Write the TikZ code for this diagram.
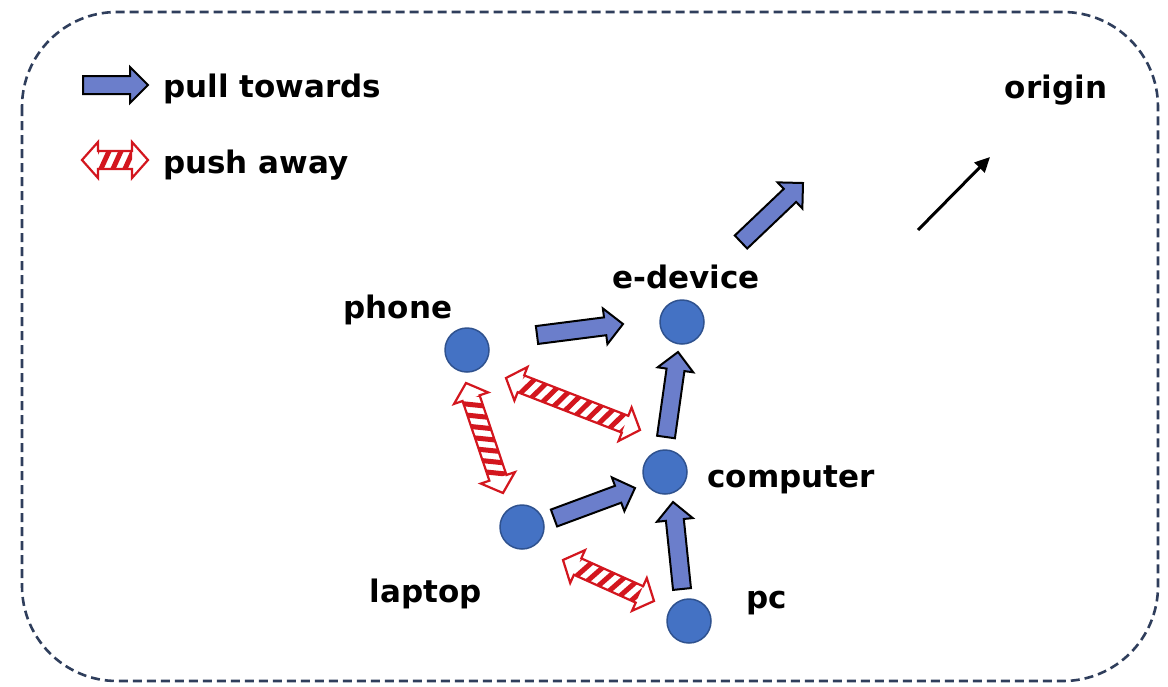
\documentclass[tikz,border=0pt]{standalone}
\usepackage{fontspec}
\setmainfont{DejaVu Sans}
\usetikzlibrary{arrows.meta}

\definecolor{framenavy}{HTML}{2F3E5C}
\definecolor{devfill}{HTML}{4472C4}
\definecolor{devedge}{HTML}{2F528F}
\definecolor{pullfill}{HTML}{6B7ECB}
\definecolor{pushred}{HTML}{D3161E}

\tikzset{
  frame/.style={draw=framenavy, line width=2.6pt, dash pattern=on 9pt off 5pt, rounded corners=95pt},
  device/.style={circle, fill=devfill, draw=devedge, line width=1.5pt, minimum size=44pt, inner sep=0pt},
  lbl/.style={font=\bfseries\fontsize{31}{37}\selectfont, inner sep=0pt, anchor=base},
  pullbody/.style={fill=pullfill, draw=black, line width=2pt, line join=miter},
  pushbody/.style={fill=white},
  pushedge/.style={draw=pushred, line width=2.2pt, line join=miter},
  pushstripe/.style={draw=pushred, line width=5pt},
  guide/.style={draw=black, line width=3pt, -{Triangle[length=15pt,width=14pt]}}
}

% position, direction and length of a block arrow from #1 to #2
\newcommand\arrowframe[2]{%
  \path (#1); \pgfgetlastxy{\arAx}{\arAy}%
  \path (#2); \pgfgetlastxy{\arBx}{\arBy}%
  \pgfmathsetmacro\arAng{atan2(\arBy-\arAy,\arBx-\arAx)}%
  \pgfmathsetmacro\arLen{veclen(\arBx-\arAx,\arBy-\arAy)}%
}

% single-headed filled block arrow
\newcommand\pullarrow[2]{%
  \arrowframe{#1}{#2}%
  \begin{scope}[shift={(\arAx,\arAy)}, rotate=\arAng]
    \pgfmathsetmacro\arBase{\arLen-18}
    \path[pullbody] (0pt,-9pt) -- (\arBase pt,-9pt) -- (\arBase pt,-18pt)
      -- (\arLen pt,0pt) -- (\arBase pt,18pt) -- (\arBase pt,9pt) -- (0pt,9pt) -- cycle;
  \end{scope}}

% double-headed hatched block arrow
\newcommand\pushpoly{(0pt,0pt) -- (16pt,18pt) -- (16pt,9pt) -- (\arBase pt,9pt)
  -- (\arBase pt,18pt) -- (\arLen pt,0pt) -- (\arBase pt,-18pt) -- (\arBase pt,-9pt)
  -- (16pt,-9pt) -- (16pt,-18pt) -- cycle}
\newcommand\pusharrow[2]{%
  \arrowframe{#1}{#2}%
  \begin{scope}[shift={(\arAx,\arAy)}, rotate=\arAng]
    \pgfmathsetmacro\arBase{\arLen-16}
    \path[pushbody] \pushpoly;
    \begin{scope}
      \clip (16pt,-9pt) rectangle (\arBase pt,9pt);
      \foreach \s in {0,12,...,\arLen}
        \draw[pushstripe] (\s pt+6pt,-11pt) -- (\s pt+16pt,11pt);
    \end{scope}
    \path[pushedge] \pushpoly;
  \end{scope}}

\begin{document}
\begin{tikzpicture}[x=1pt, y=-1pt]
  \useasboundingbox (0,0) rectangle (1168,686);

  % dashed outer frame
  \draw[frame] (22,12) rectangle (1158,681);

  % devices
  \node[device] (phone)    at (467,350) {};
  \node[device] (edevice)  at (682,322) {};
  \node[device] (computer) at (665,472) {};
  \node[device] (laptop)   at (522,527) {};
  \node[device] (pc)       at (689,621) {};

  % labels
  \node[lbl] (tphone)    at (398,318) {phone};
  \node[lbl] (tedevice)  at (686,288) {e-device};
  \node[lbl] (tcomputer) at (791,487) {computer};
  \node[lbl] (tlaptop)   at (426,602) {laptop};
  \node[lbl] (tpc)       at (767,608) {pc};
  \node[lbl] (torigin)   at (1056,98) {origin};

  % legend
  \node[lbl, anchor=base west] (tpull) at (163,97) {pull towards};
  \node[lbl, anchor=base west] (tpush) at (163,173) {push away};
  \coordinate (legpullA) at (83,85);   \coordinate (legpullB) at (148,85);
  \coordinate (legpushA) at (82,160);  \coordinate (legpushB) at (148,160);
  \pullarrow{legpullA}{legpullB}
  \pusharrow{legpushA}{legpushB}

  % pull arrows
  \coordinate (pePhone) at (537,335);  \coordinate (peDev)  at (623,324);
  \coordinate (lcLap)   at (554,518);  \coordinate (lcComp) at (635,488);
  \coordinate (pcPc)    at (682,589);  \coordinate (pcComp) at (673,502);
  \coordinate (ceComp)  at (666,437);  \coordinate (ceDev)  at (678,352);
  \coordinate (eoDev)   at (741,242);  \coordinate (eoOut)  at (803,183);
  \pullarrow{pePhone}{peDev}
  \pullarrow{lcLap}{lcComp}
  \pullarrow{pcPc}{pcComp}
  \pullarrow{ceComp}{ceDev}
  \pullarrow{eoDev}{eoOut}

  % push arrows
  \coordinate (rpcA) at (506,378); \coordinate (rpcB) at (640,430);
  \coordinate (rplA) at (466,383); \coordinate (rplB) at (503,493);
  \coordinate (rlpA) at (563,560); \coordinate (rlpB) at (654,601);
  \pusharrow{rpcA}{rpcB}
  \pusharrow{rplA}{rplB}
  \pusharrow{rlpA}{rlpB}

  % direction towards the origin
  \coordinate (gA) at (918,230); \coordinate (gB) at (990,157);
  \draw[guide] (gA) -- (gB);
\end{tikzpicture}
\end{document}
